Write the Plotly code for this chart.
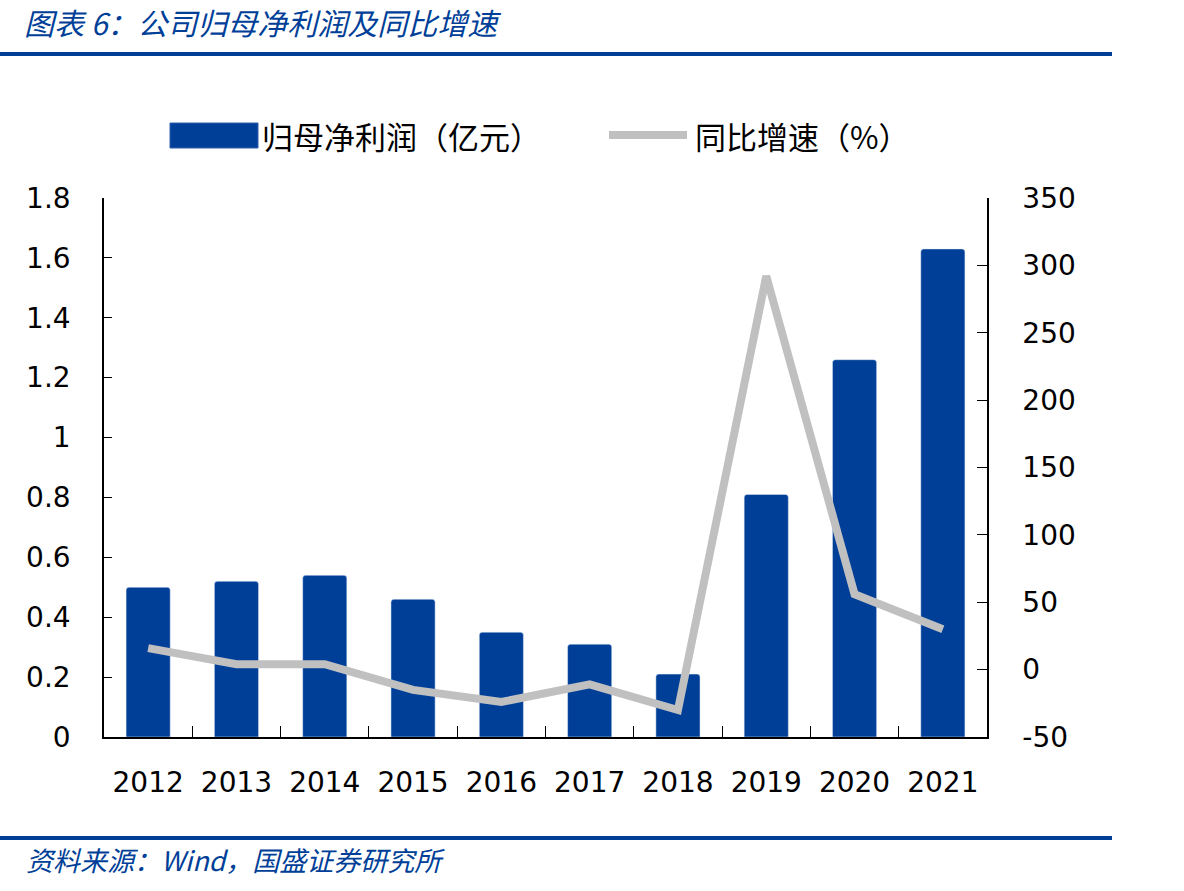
import plotly.graph_objects as go

years = ["2012", "2013", "2014", "2015", "2016", "2017", "2018", "2019", "2020", "2021"]
profit = [0.50, 0.52, 0.54, 0.46, 0.35, 0.31, 0.21, 0.81, 1.26, 1.63]
growth = [16, 4, 4, -15, -24, -11, -30, 292, 56, 30]
right_ticks = [-50, 0, 50, 100, 150, 200, 250, 300, 350]
right_labels = ["-50", "0", "50", "100", "150", "200", "250", "300", "350"]

BLUE = "#003f98"
GRAY = "#c0c0c0"
NUM_FONT = "DejaVu Sans"
CJK = "Noto Sans CJK SC"

fig = go.Figure()
fig.add_trace(go.Bar(x=years, y=profit, name="归母净利润（亿元）", marker=dict(color=BLUE, cornerradius=3),
                     width=0.5, showlegend=False, yaxis="y"))
fig.add_trace(go.Scatter(x=years, y=growth, name="同比增速（%）", mode="lines",
                         line=dict(color=GRAY, width=8), showlegend=False, yaxis="y2"))

W, H = 1184, 891
L, R, T, B = 104, 987, 198, 737

fig.update_layout(
    width=W, height=H,
    margin=dict(l=L, r=W - R, t=T, b=H - B),
    paper_bgcolor="white", plot_bgcolor="white",
    xaxis=dict(type="category", showline=True, linecolor="black", linewidth=1.5,
               ticks="inside", tickson="boundaries", ticklen=11, tickcolor="black",
               tickfont=dict(family=NUM_FONT, size=28, color="black"),
               ticklabelstandoff=20, showgrid=False, zeroline=False),
    yaxis=dict(range=[0, 1.8], dtick=0.2, tick0=0, showline=True, linecolor="black", linewidth=1.5,
               ticks="inside", ticklen=8, tickcolor="black",
               tickfont=dict(family=NUM_FONT, size=28, color="black"),
               ticklabelstandoff=26, showgrid=False, zeroline=False),
    yaxis2=dict(range=[-50, 350], tickmode="array", tickvals=right_ticks, ticktext=right_labels,
                overlaying="y", side="right",
                showline=True, linecolor="black", linewidth=1.5,
                ticks="inside", ticklen=10, tickcolor="black",
                tickfont=dict(family=NUM_FONT, size=28, color="black"),
                ticklabelstandoff=28, showgrid=False, zeroline=False),
)

def xp(x):
    return (x - L) / (R - L)

def yp(y):
    return (B - y) / (B - T)

def rule(y):
    return dict(type="rect", xref="paper", yref="paper",
                x0=xp(0), x1=xp(1112), y0=yp(y + 2), y1=yp(y - 2),
                fillcolor=BLUE, line=dict(width=0), layer="above")

shapes = [rule(54), rule(838)]
# legend swatches
shapes.append(dict(type="rect", xref="paper", yref="paper", x0=xp(170), x1=xp(258), y0=yp(148), y1=yp(123),
                   fillcolor=BLUE, line=dict(width=1, color="#3060b0")))
shapes.append(dict(type="line", xref="paper", yref="paper", x0=xp(609), x1=xp(687), y0=yp(135), y1=yp(135),
                   line=dict(color=GRAY, width=8)))
fig.update_layout(shapes=shapes)

ann = []
ann.append(dict(text="<i>图表 6：公司归母净利润及同比增速</i>", xref="paper", yref="paper",
                x=xp(22), y=yp(22), xanchor="left", yanchor="middle", showarrow=False,
                font=dict(family=CJK, size=30, color=BLUE)))
ann.append(dict(text="<i>资料来源：Wind，国盛证券研究所</i>", xref="paper", yref="paper",
                x=xp(24), y=yp(859), xanchor="left", yanchor="middle", showarrow=False,
                font=dict(family=CJK, size=27, color=BLUE)))
ann.append(dict(text="归母净利润（亿元）", xref="paper", yref="paper",
                x=xp(260), y=yp(135), xanchor="left", yanchor="middle", showarrow=False,
                font=dict(family=CJK, size=31, color="black")))
ann.append(dict(text="同比增速（%）", xref="paper", yref="paper",
                x=xp(693), y=yp(135), xanchor="left", yanchor="middle", showarrow=False,
                font=dict(family=CJK, size=31, color="black")))
fig.update_layout(annotations=ann)

fig.write_html("out.html")
